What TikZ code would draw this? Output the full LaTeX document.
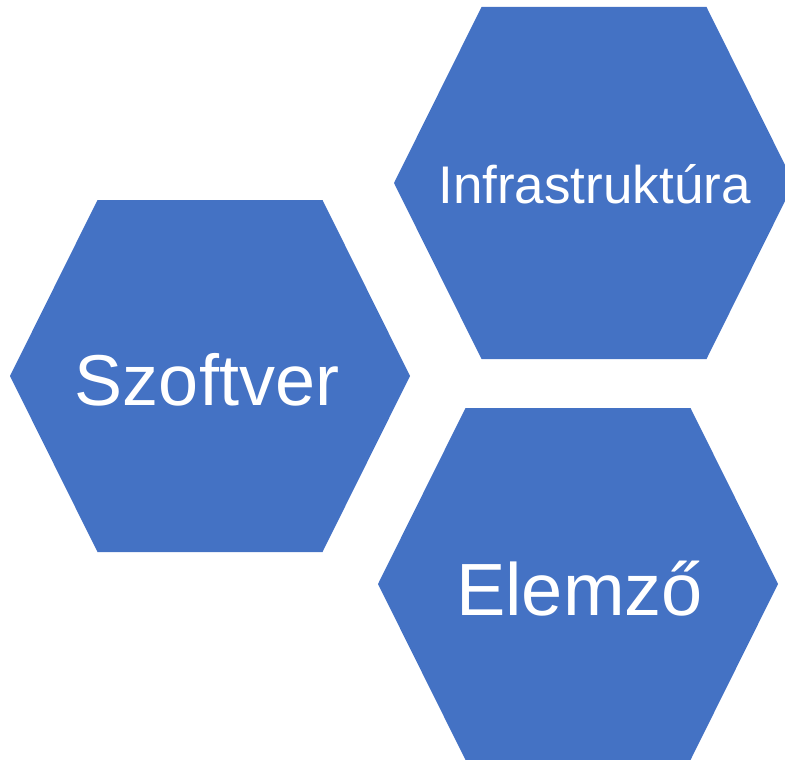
\documentclass[tikz,border=0pt]{standalone}
\usepackage{fontspec}
\setmainfont{Liberation Sans}
\definecolor{hexblue}{HTML}{4472C4}
\begin{document}
\begin{tikzpicture}[x=1pt,y=-1pt,
  hexfill/.style={fill=hexblue,draw=none},
  biglabel/.style={text=white,anchor=base,inner sep=0pt,font=\fontsize{74}{80}\selectfont},
  midlabel/.style={text=white,anchor=base,inner sep=0pt,font=\fontsize{72}{78}\selectfont},
  smalllabel/.style={text=white,anchor=base,inner sep=0pt,font=\fontsize{53}{60}\selectfont}]
\useasboundingbox (0,0) rectangle (785,760);
\begin{scope}
\clip (0,0) rectangle (785,760);
% left hexagon
\fill[hexfill] (10,376) -- (97.5,200) -- (322.5,200) -- (410,376) -- (322.5,552) -- (97.5,552) -- cycle;
% upper right hexagon
\fill[hexfill] (394,183) -- (481.5,7) -- (706.5,7) -- (794,183) -- (706.5,359) -- (481.5,359) -- cycle;
% lower right hexagon
\fill[hexfill] (378,584) -- (465.5,408) -- (690.5,408) -- (778,584) -- (690.5,760) -- (465.5,760) -- cycle;
\end{scope}
\node[midlabel] (szoftver) at (207,405) {Szoftver};
\node[smalllabel] (infra) at (594.5,203) {Infrastruktúra};
\node[biglabel] (elemzo) at (579.5,615) {Elemző};
\end{tikzpicture}
\end{document}
